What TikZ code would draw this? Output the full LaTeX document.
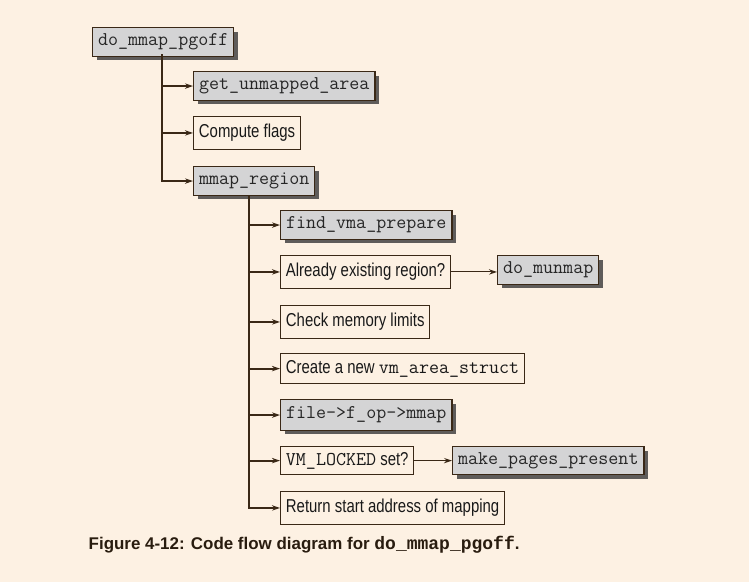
\documentclass[tikz,border=0pt]{standalone}
\usepackage{fontspec}
\setmainfont{Liberation Sans}
\newfontfamily\condfont[FakeStretch=0.8]{Liberation Sans}
\newfontfamily\capmono{Liberation Mono}
\usepackage{tikz}
\usetikzlibrary{arrows.meta,shadows}

\definecolor{paper}{RGB}{253,241,227}
\definecolor{ink}{RGB}{58,40,22}
\definecolor{boxgray}{RGB}{212,212,213}
\definecolor{shade}{RGB}{95,92,90}

\newcommand{\code}[1]{{\fontsize{14.6}{16}\ttfamily #1}}

\tikzset{
  codebox/.style={draw=ink,line width=1.1pt,fill=boxgray,anchor=north west,
    inner xsep=4pt,inner ysep=0pt,minimum height=21.5pt,
    font=\fontsize{14.6}{16}\ttfamily,text=black!85,
    drop shadow={shadow xshift=3pt,shadow yshift=-3pt,fill=shade,opacity=1}},
  textbox/.style={draw=ink,line width=0.9pt,anchor=north west,
    inner xsep=4pt,inner ysep=0pt,minimum height=24.5pt,
    font=\fontsize{14}{16}\condfont,text=black!90},
  link/.style={draw=ink,line width=1.5pt,-{Stealth[length=6pt,width=4pt]}},
  sidelink/.style={draw=ink,line width=0.8pt,-{Stealth[length=6pt,width=4pt]}}
}

\begin{document}
\begin{tikzpicture}[x=0.75pt,y=-0.75pt]
\fill[paper] (0,0) rectangle (749,582);
\useasboundingbox (0,0) rectangle (749,582);
\node[codebox] (pgoff) at (92,27) {do\_mmap\_pgoff};
\node[codebox] (getarea) at (193,71) {get\_unmapped\_area};
\node[textbox] (flags) at (193,116) {Compute flags};
\node[codebox] (region) at (193,166) {mmap\_region};
\node[codebox] (findvma) at (280,210) {find\_vma\_prepare};
\node[textbox] (exist) at (280,255) {Already existing region?};
\node[codebox] (munmap) at (497,255) {do\_munmap};
\node[textbox] (memlim) at (280,305) {Check memory limits};
\node[textbox,minimum height=22.5pt] (newvma) at (280,353) {Create a new \code{vm\_area\_struct}};
\node[codebox,minimum height=23pt] (fop) at (280,399) {file->f\_op->mmap};
\node[textbox,minimum height=21pt] (locked) at (280,446) {\code{VM\_LOCKED} set?};
\node[codebox,minimum height=21pt] (pages) at (452,446) {make\_pages\_present};
\node[textbox] (retaddr) at (280,491) {Return start address of mapping};
\coordinate (t1) at (162,54);
\coordinate (t2) at (249,195);
\foreach \n in {getarea,flags,region}
  \draw[link] (t1) |- (\n.west);
\foreach \n in {findvma,exist,memlim,newvma,fop,locked,retaddr}
  \draw[link] (t2) |- (\n.west);
\draw[sidelink] (exist.east) -- (exist.east -| munmap.west);
\draw[sidelink] (locked.east) -- (locked.east -| pages.west);
\node[anchor=west,font=\fontsize{12.7}{15}\bfseries,text=ink!70!black] (caption) at (84,545)
  {Figure 4-12: Code flow diagram for {\fontsize{13.5}{15}\capmono\bfseries do\_mmap\_pgoff}.};
\end{tikzpicture}
\end{document}
